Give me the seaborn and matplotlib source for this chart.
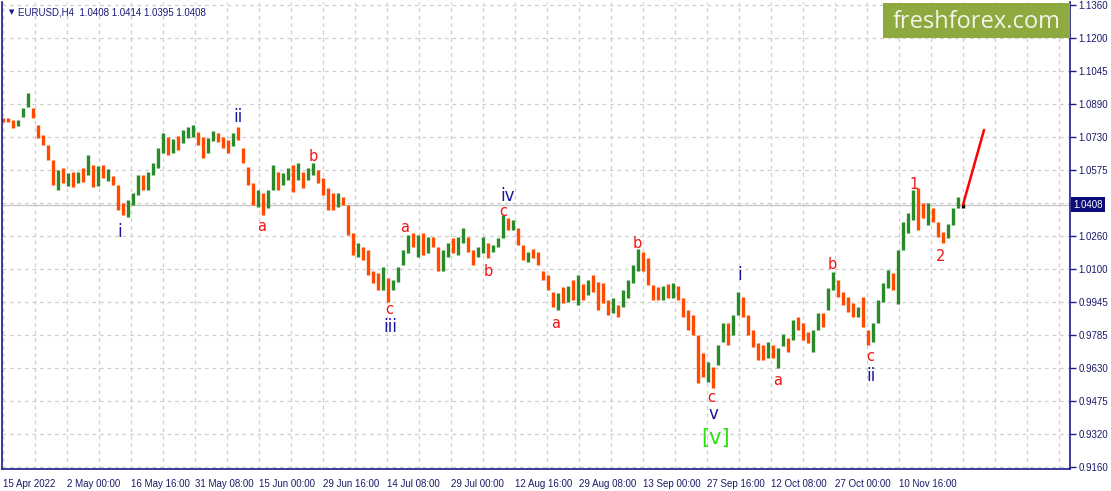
import numpy as np
import pandas as pd
import matplotlib.pyplot as plt
import seaborn as sns
from matplotlib.patches import Rectangle
import matplotlib.transforms as mtransforms

# EURUSD H4, sampled every 5 bars (high / low / close)
highs = [1.0822, 1.0822, 1.0812, 1.0812, 1.0869, 1.0941, 1.0869, 1.0788, 1.0740, 1.0693,
         1.0621, 1.0574, 1.0583, 1.0560, 1.0564, 1.0564, 1.0583, 1.0645, 1.0598, 1.0593,
         1.0598, 1.0579, 1.0545, 1.0502, 1.0417, 1.0431, 1.0464, 1.0550, 1.0550, 1.0564,
         1.0607, 1.0679, 1.0750, 1.0731, 1.0721, 1.0736, 1.0764, 1.0778, 1.0788, 1.0755,
         1.0731, 1.0726, 1.0759, 1.0750, 1.0731, 1.0717, 1.0750, 1.0778, 1.0679, 1.0588,
         1.0512, 1.0479, 1.0464, 1.0479, 1.0598, 1.0564, 1.0560, 1.0583, 1.0598, 1.0607,
         1.0564, 1.0583, 1.0607, 1.0574, 1.0536, 1.0488, 1.0464, 1.0464, 1.0445, 1.0407,
         1.0274, 1.0226, 1.0207, 1.0193, 1.0093, 1.0083, 1.0112, 1.0060, 1.0050, 1.0112,
         1.0193, 1.0264, 1.0274, 1.0264, 1.0274, 1.0255, 1.0255, 1.0207, 1.0193, 1.0226,
         1.0250, 1.0255, 1.0298, 1.0255, 1.0193, 1.0207, 1.0255, 1.0226, 1.0217, 1.0250,
         1.0360, 1.0345, 1.0336, 1.0298, 1.0217, 1.0183, 1.0198, 1.0183, 1.0093, 1.0074,
         0.9993, 0.9988, 1.0017, 1.0022, 1.0050, 1.0074, 1.0031, 1.0050, 1.0074, 1.0041,
         1.0036, 0.9955, 0.9965, 0.9931, 1.0003, 1.0050, 1.0121, 1.0198, 1.0183, 1.0155,
         1.0026, 1.0017, 1.0022, 1.0031, 1.0036, 1.0022, 0.9965, 0.9907, 0.9884, 0.9788,
         0.9703, 0.9660, 0.9636, 0.9741, 0.9845, 0.9845, 0.9884, 0.9993, 0.9969, 0.9884,
         0.9812, 0.9750, 0.9741, 0.9755, 0.9741, 0.9727, 0.9793, 0.9774, 0.9860, 0.9874,
         0.9845, 0.9803, 0.9812, 0.9893, 0.9893, 1.0012, 1.0088, 1.0050, 0.9993, 0.9969,
         0.9941, 0.9922, 0.9969, 0.9812, 0.9845, 0.9955, 1.0036, 1.0098, 1.0083, 1.0193,
         1.0326, 1.0369, 1.0479, 1.0488, 1.0417, 1.0417, 1.0393, 1.0326, 1.0279, 1.0317,
         1.0393, 1.0445, 1.0414]
lows = [1.0802, 1.0802, 1.0774, 1.0783, 1.0826, 1.0874, 1.0822, 1.0726, 1.0693, 1.0621,
        1.0502, 1.0479, 1.0512, 1.0497, 1.0493, 1.0512, 1.0517, 1.0550, 1.0493, 1.0497,
        1.0536, 1.0521, 1.0502, 1.0383, 1.0360, 1.0350, 1.0407, 1.0455, 1.0479, 1.0479,
        1.0550, 1.0583, 1.0655, 1.0645, 1.0655, 1.0669, 1.0702, 1.0726, 1.0731, 1.0693,
        1.0631, 1.0655, 1.0712, 1.0707, 1.0679, 1.0655, 1.0688, 1.0717, 1.0607, 1.0502,
        1.0407, 1.0398, 1.0360, 1.0393, 1.0479, 1.0479, 1.0502, 1.0526, 1.0469, 1.0526,
        1.0488, 1.0526, 1.0550, 1.0512, 1.0455, 1.0383, 1.0383, 1.0398, 1.0407, 1.0264,
        1.0169, 1.0160, 1.0145, 1.0074, 1.0036, 1.0003, 1.0003, 0.9945, 1.0003, 1.0041,
        1.0121, 1.0179, 1.0207, 1.0160, 1.0169, 1.0179, 1.0207, 1.0093, 1.0093, 1.0160,
        1.0179, 1.0169, 1.0226, 1.0183, 1.0121, 1.0160, 1.0179, 1.0155, 1.0183, 1.0207,
        1.0250, 1.0288, 1.0288, 1.0217, 1.0145, 1.0136, 1.0155, 1.0121, 1.0050, 1.0003,
        0.9922, 0.9907, 0.9941, 0.9945, 0.9955, 0.9931, 0.9955, 0.9979, 0.9993, 0.9907,
        0.9941, 0.9884, 0.9893, 0.9874, 0.9922, 0.9965, 1.0036, 1.0093, 1.0093, 1.0026,
        0.9955, 0.9955, 0.9955, 0.9965, 0.9965, 0.9955, 0.9874, 0.9812, 0.9788, 0.9560,
        0.9589, 0.9565, 0.9536, 0.9646, 0.9755, 0.9741, 0.9788, 0.9884, 0.9874, 0.9788,
        0.9731, 0.9669, 0.9669, 0.9679, 0.9679, 0.9631, 0.9736, 0.9707, 0.9765, 0.9812,
        0.9765, 0.9750, 0.9707, 0.9812, 0.9826, 0.9907, 1.0003, 0.9969, 0.9931, 0.9898,
        0.9874, 0.9874, 0.9826, 0.9741, 0.9755, 0.9845, 0.9945, 1.0012, 1.0003, 0.9936,
        1.0193, 1.0274, 1.0336, 1.0288, 1.0345, 1.0312, 1.0326, 1.0255, 1.0226, 1.0250,
        1.0312, 1.0393, 1.0395]
closes = [1.0812, 1.0807, 1.0783, 1.0807, 1.0859, 1.0888, 1.0831, 1.0740, 1.0712, 1.0636,
          1.0526, 1.0545, 1.0526, 1.0550, 1.0507, 1.0545, 1.0526, 1.0598, 1.0517, 1.0574,
          1.0545, 1.0564, 1.0517, 1.0402, 1.0383, 1.0417, 1.0450, 1.0526, 1.0497, 1.0545,
          1.0583, 1.0669, 1.0717, 1.0669, 1.0702, 1.0688, 1.0740, 1.0755, 1.0774, 1.0717,
          1.0669, 1.0712, 1.0745, 1.0717, 1.0693, 1.0669, 1.0736, 1.0726, 1.0621, 1.0517,
          1.0431, 1.0464, 1.0412, 1.0450, 1.0574, 1.0502, 1.0540, 1.0564, 1.0502, 1.0583,
          1.0526, 1.0569, 1.0593, 1.0526, 1.0469, 1.0441, 1.0407, 1.0445, 1.0417, 1.0288,
          1.0193, 1.0207, 1.0164, 1.0098, 1.0050, 1.0026, 1.0050, 1.0031, 1.0041, 1.0098,
          1.0179, 1.0240, 1.0221, 1.0231, 1.0193, 1.0240, 1.0217, 1.0136, 1.0169, 1.0212,
          1.0193, 1.0240, 1.0264, 1.0202, 1.0155, 1.0193, 1.0231, 1.0193, 1.0207, 1.0240,
          1.0326, 1.0307, 1.0321, 1.0231, 1.0169, 1.0174, 1.0164, 1.0136, 1.0064, 1.0017,
          0.9955, 0.9969, 0.9955, 1.0003, 0.9974, 1.0026, 0.9984, 1.0026, 1.0012, 1.0003,
          0.9955, 0.9907, 0.9936, 0.9898, 0.9984, 1.0031, 1.0098, 1.0164, 1.0136, 1.0036,
          0.9993, 0.9974, 1.0003, 0.9979, 1.0012, 0.9969, 0.9888, 0.9850, 0.9812, 0.9669,
          0.9622, 0.9641, 0.9565, 0.9727, 0.9812, 0.9779, 0.9860, 0.9955, 0.9898, 0.9812,
          0.9750, 0.9717, 0.9688, 0.9727, 0.9698, 0.9717, 0.9774, 0.9745, 0.9841, 0.9831,
          0.9793, 0.9784, 0.9803, 0.9870, 0.9850, 0.9993, 1.0050, 1.0003, 0.9955, 0.9941,
          0.9888, 0.9907, 0.9850, 0.9788, 0.9826, 0.9931, 1.0012, 1.0050, 1.0026, 1.0174,
          1.0298, 1.0336, 1.0431, 1.0383, 1.0374, 1.0402, 1.0345, 1.0274, 1.0260, 1.0298,
          1.0374, 1.0408, 1.0408]
first_open = 1.0822
bar_step = 5

date_labels = ['15 Apr 2022', '2 May 00:00', '16 May 16:00', '31 May 08:00', '15 Jun 00:00',
               '29 Jun 16:00', '14 Jul 08:00', '29 Jul 00:00', '12 Aug 16:00', '29 Aug 08:00',
               '13 Sep 00:00', '27 Sep 16:00', '12 Oct 08:00', '27 Oct 00:00', '10 Nov 16:00']
price_labels = ['0.9160', '0.9320', '0.9475', '0.9630', '0.9785', '0.9945', '1.0100', '1.0260',
                '', '1.0575', '1.0730', '1.0890', '1.1045', '1.1200', '1.1360']
last_price = 1.0408
forecast_x = [960, 981]
forecast_y = [1.0408, 1.0764]

NAVY = '#16169a'
RED = '#f41414'
waves = [('i', 117, 1.0279, NAVY), ('ii', 235, 1.0826, NAVY), ('a', 259, 1.0307, RED),
         ('b', 310, 1.0636, RED), ('a', 402, 1.0298, RED), ('c', 386, 0.9912, RED),
         ('iii', 387, 0.9826, NAVY), ('b', 485, 1.0093, RED), ('c', 500, 1.0376, RED),
         ('iv', 505, 1.0452, NAVY), ('a', 553, 0.9845, RED), ('b', 634, 1.0226, RED),
         ('c', 708, 0.9489, RED), ('v', 710, 0.9412, NAVY), ('i', 737, 1.0074, NAVY),
         ('a', 775, 0.9574, RED), ('b', 829, 1.0126, RED), ('c', 867, 0.9684, RED),
         ('ii', 868, 0.9593, NAVY), ('1', 911, 1.0507, RED), ('2', 938, 1.0160, RED)]

df = pd.DataFrame({'high': highs, 'low': lows, 'close': closes})
df['open'] = df['close'].shift(1).fillna(first_open)
df['pos'] = df.index * bar_step
df['colour'] = np.where(df['close'] > df['open'], '#288a28',
                        np.where(df['close'] < df['open'], '#ff4a00', '#000000'))

sns.set_style('white')
plt.rcParams['font.family'] = ['Liberation Sans', 'DejaVu Sans']

fig = plt.figure(figsize=(11.11, 4.91), dpi=100)
ax = fig.add_axes([2 / 1111, 22 / 491, 1068 / 1111, 467 / 491])
ax.set_xlim(-1, 1067)
ax.set_ylim(0.9151, 1.1373)

# grid
yticks = np.linspace(0.9160, 1.1360, len(price_labels))
for gx in range(0, 1067, 32):
    ax.axvline(gx, color='#cfcfcf', lw=0.9, ls=(0, (3, 3)), zorder=0)
for gy in yticks:
    ax.axhline(gy, color='#cfcfcf', lw=0.9, ls=(0, (3, 3)), zorder=0)
ax.axhline(last_price, color='#c8c8c8', lw=1.0, zorder=1)

ax.vlines(df['pos'], df['low'], df['high'], colors=df['colour'], linewidth=2.4, zorder=2)

sns.lineplot(x=forecast_x, y=forecast_y, color='#ff0000', linewidth=1.8, ax=ax, zorder=3)

for txt, x, y, c in waves:
    ax.text(x, y, txt, color=c, fontsize=10.5 if c == RED else 12, ha='center', va='center',
            family=['DejaVu Sans'])
ax.text(713, 0.9298, '[v]', color='#2ee010', fontsize=15, ha='center', va='center',
        family=['DejaVu Sans'])

# axes styling
for s in ['left', 'bottom', 'right']:
    ax.spines[s].set_color('#1a1a8a')
    ax.spines[s].set_linewidth(1.2)
ax.spines['top'].set_visible(False)
ax.yaxis.tick_right()
ax.set_yticks(yticks)
ax.set_yticklabels(price_labels)
ax.set_xticks(np.arange(len(date_labels)) * 64)
ax.set_xticklabels(date_labels, ha='left')
ax.tick_params(axis='both', colors='#1a1a8a', labelsize=7, length=4, width=1, pad=2,
               labelcolor='#1a1a6a')
ax.tick_params(axis='x', pad=3)

# current price tag
tr = mtransforms.blended_transform_factory(ax.transAxes, ax.transData)
ax.text(1.003, last_price, '1.0408', transform=tr, color='white', fontsize=7, va='center',
        ha='left', bbox=dict(boxstyle='square,pad=0.25', fc='#0a0a78', ec='none'), clip_on=False)

# title
ax.text(0.0065, 0.978, '\u25bc', transform=ax.transAxes, color=NAVY, fontsize=5,
        va='center', family=['DejaVu Sans'])
ax.text(0.015, 0.978, 'EURUSD,H4  1.0408 1.0414 1.0395 1.0408', transform=ax.transAxes,
        color='#1a1a7a', fontsize=7, va='center')

# watermark
ax.add_patch(Rectangle((0.825, 0.923), 0.175, 0.075, transform=ax.transAxes,
                       fc='#8eaa3e', ec='none', zorder=5))
ax.text(0.9125, 0.958, 'freshforex.com', transform=ax.transAxes, color='#f4f4ea',
        fontsize=17, ha='center', va='center', family=['Open Sans'], zorder=6)

fig.savefig('out.png', dpi=100)
